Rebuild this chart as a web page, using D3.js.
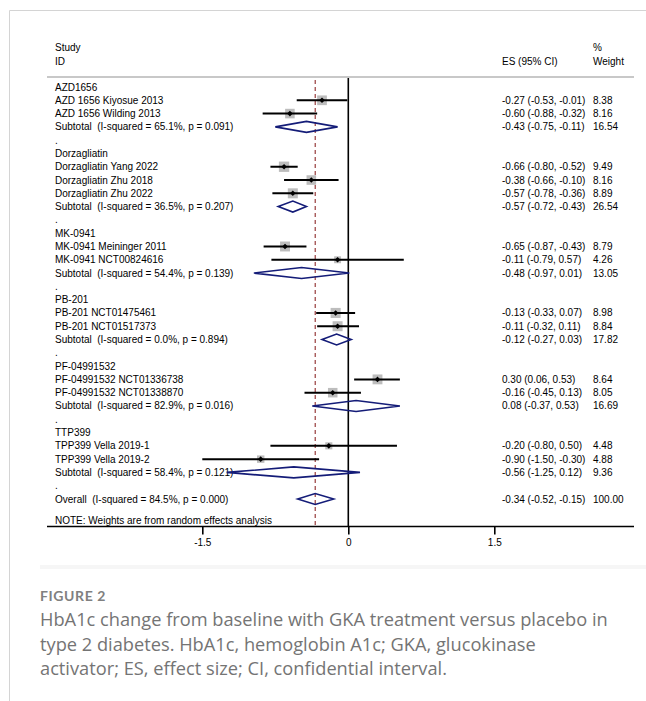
<!DOCTYPE html>
<html>
<head>
<meta charset="utf-8">
<script src="https://cdn.jsdelivr.net/npm/d3@7"></script>
<style>
  html, body { margin: 0; padding: 0; background: #fff; }
  svg { display: block; }
  svg text { white-space: pre; }
</style>
</head>
<body>
<script>
// ---- DATA ----
const rowLabels = [
  "AZD1656",
  "AZD 1656 Kiyosue 2013",
  "AZD 1656 Wilding 2013",
  "Subtotal  (I-squared = 65.1%, p = 0.091)",
  ".",
  "Dorzagliatin",
  "Dorzagliatin Yang 2022",
  "Dorzagliatin Zhu 2018",
  "Dorzagliatin Zhu 2022",
  "Subtotal  (I-squared = 36.5%, p = 0.207)",
  ".",
  "MK-0941",
  "MK-0941 Meininger 2011",
  "MK-0941 NCT00824616",
  "Subtotal  (I-squared = 54.4%, p = 0.139)",
  ".",
  "PB-201",
  "PB-201 NCT01475461",
  "PB-201 NCT01517373",
  "Subtotal  (I-squared = 0.0%, p = 0.894)",
  ".",
  "PF-04991532",
  "PF-04991532 NCT01336738",
  "PF-04991532 NCT01338870",
  "Subtotal  (I-squared = 82.9%, p = 0.016)",
  ".",
  "TTP399",
  "TPP399 Vella 2019-1",
  "TPP399 Vella 2019-2",
  "Subtotal  (I-squared = 58.4%, p = 0.121)",
  ".",
  "Overall  (I-squared = 84.5%, p = 0.000)"
];
// g = group header, s = study, d = subtotal diamond, o = overall diamond, b = blank
const rowTypes = ["g","s","s","d","b","g","s","s","s","d","b","g","s","s","d","b","g","s","s","d","b","g","s","s","d","b","g","s","s","d","b","o"];
const esValues = [null,-0.27,-0.60,-0.43,null,null,-0.66,-0.38,-0.57,-0.57,null,null,-0.65,-0.11,-0.48,null,null,-0.13,-0.11,-0.12,null,null,0.30,-0.16,0.08,null,null,-0.20,-0.90,-0.56,null,-0.34];
const ciLower  = [null,-0.53,-0.88,-0.75,null,null,-0.80,-0.66,-0.78,-0.72,null,null,-0.87,-0.79,-0.97,null,null,-0.33,-0.32,-0.27,null,null,0.06,-0.45,-0.37,null,null,-0.80,-1.50,-1.25,null,-0.52];
const ciUpper  = [null,-0.01,-0.32,-0.11,null,null,-0.52,-0.10,-0.36,-0.43,null,null,-0.43,0.57,0.01,null,null,0.07,0.11,0.03,null,null,0.53,0.13,0.53,null,null,0.50,-0.30,0.12,null,-0.15];
const weights  = [null,8.38,8.16,16.54,null,null,9.49,8.16,8.89,26.54,null,null,8.79,4.26,13.05,null,null,8.98,8.84,17.82,null,null,8.64,8.05,16.69,null,null,4.48,4.88,9.36,null,100.00];
const overallES = -0.34;
const xTicks = [-1.5, 0, 1.5];
const noteText = "NOTE: Weights are from random effects analysis";
const captionTitle = "FIGURE 2";
const captionLines = [
  "HbA1c change from baseline with GKA treatment versus placebo in",
  "type 2 diabetes. HbA1c, hemoglobin A1c; GKA, glucokinase",
  "activator; ES, effect size; CI, confidential interval."
];

// ---- LAYOUT ----
const W = 646, H = 701;
const svg = d3.select("body").append("svg").attr("width", W).attr("height", H);
svg.append("rect").attr("width", W).attr("height", H).attr("fill", "#fff");

// card border (left + top)
svg.append("path").attr("d", `M9.5,${H} L9.5,10.5 L${W},10.5`)
  .attr("fill", "none").attr("stroke", "#d4d4d4").attr("stroke-width", 1);

const font = "'Liberation Sans', Arial, Helvetica, sans-serif";
const fs = 10;
const x = d3.scaleLinear().domain([-1.5, 1.5]).range([202.3, 494.3]);
const y = d3.scaleLinear().domain([0, rowLabels.length - 1]).range([87, 499]);
const axisY = 526.5, topY = 77;
const textX = 55, ciX = 502, wX = 593;

const g = svg.append("g");

// header
const hdr = g.append("g").attr("font-family", font).attr("font-size", fs).attr("fill", "#000");
hdr.append("text").attr("x", textX).attr("y", 47).attr("dy", "0.35em").text("Study");
hdr.append("text").attr("x", textX).attr("y", 61).attr("dy", "0.35em").text("ID");
hdr.append("text").attr("x", ciX).attr("y", 61).attr("dy", "0.35em").text("ES (95% CI)");
hdr.append("text").attr("x", wX).attr("y", 47).attr("dy", "0.35em").text("%");
hdr.append("text").attr("x", wX).attr("y", 61).attr("dy", "0.35em").text("Weight");

// header separator
g.append("line").attr("x1", 47).attr("x2", 634).attr("y1", topY).attr("y2", topY)
  .attr("stroke", "#c8c8c8").attr("stroke-width", 2);

// zero line
g.append("line").attr("x1", x(0)).attr("x2", x(0)).attr("y1", topY + 1).attr("y2", axisY)
  .attr("stroke", "#000").attr("stroke-width", 1.6);

// overall dashed line
g.append("line").attr("x1", x(overallES)).attr("x2", x(overallES)).attr("y1", topY + 3).attr("y2", axisY)
  .attr("stroke", "#8e2b2b").attr("stroke-width", 1.1).attr("stroke-dasharray", "4,3");

const rows = rowLabels.map((label, i) => ({
  i, label, type: rowTypes[i], es: esValues[i], lo: ciLower[i], hi: ciUpper[i], w: weights[i]
}));
const f2 = d3.format(".2f");
const fmt = v => f2(v).replace("\u2212", "-");

// labels
g.append("g").attr("font-family", font).attr("font-size", fs).attr("fill", "#000")
  .selectAll("text").data(rows).join("text")
  .attr("x", textX).attr("y", d => y(d.i)).attr("dy", "0.35em").text(d => d.label);

// CI texts and weights
const withVals = rows.filter(d => d.es !== null);
g.append("g").attr("font-family", font).attr("font-size", fs).attr("fill", "#000")
  .selectAll("text").data(withVals).join("text")
  .attr("x", ciX).attr("y", d => y(d.i)).attr("dy", "0.35em")
  .text(d => `${fmt(d.es)} (${fmt(d.lo)}, ${fmt(d.hi)})`);
g.append("g").attr("font-family", font).attr("font-size", fs).attr("fill", "#000")
  .selectAll("text").data(withVals).join("text")
  .attr("x", wX).attr("y", d => y(d.i)).attr("dy", "0.35em")
  .text(d => fmt(d.w));

// study markers
const studies = rows.filter(d => d.type === "s");
const boxSide = d3.scaleSqrt().domain([0, 10]).range([0, 10.6]);
const sg = g.append("g");
sg.selectAll("rect").data(studies).join("rect")
  .attr("x", d => x(d.es) - boxSide(d.w) / 2)
  .attr("y", d => y(d.i) - boxSide(d.w) / 2)
  .attr("width", d => boxSide(d.w)).attr("height", d => boxSide(d.w))
  .attr("fill", "#bdbdbd");
sg.selectAll("line").data(studies).join("line")
  .attr("x1", d => x(d.lo)).attr("x2", d => x(d.hi))
  .attr("y1", d => y(d.i)).attr("y2", d => y(d.i))
  .attr("stroke", "#000").attr("stroke-width", 2);
sg.selectAll("path").data(studies).join("path")
  .attr("d", d => {
    const cx = x(d.es), cy = y(d.i), r = 2.8;
    return `M${cx},${cy - r}L${cx + r},${cy}L${cx},${cy + r}L${cx - r},${cy}Z`;
  })
  .attr("fill", "#000");

// diamonds
const diam = rows.filter(d => d.type === "d" || d.type === "o");
g.append("g").selectAll("path").data(diam).join("path")
  .attr("d", d => {
    const cy = y(d.i), h = 5.5;
    return `M${x(d.lo)},${cy}L${x(d.es)},${cy - h}L${x(d.hi)},${cy}L${x(d.es)},${cy + h}Z`;
  })
  .attr("fill", "none").attr("stroke", "#141c78").attr("stroke-width", 1.6)
  .attr("stroke-linejoin", "miter");

// note
g.append("text").attr("x", textX).attr("y", 520).attr("dy", "0.35em")
  .attr("font-family", font).attr("font-size", fs).text(noteText);

// x axis
g.append("line").attr("x1", 47).attr("x2", 634).attr("y1", axisY).attr("y2", axisY)
  .attr("stroke", "#000").attr("stroke-width", 1.6);
const axisG = g.append("g").attr("transform", `translate(0,${axisY})`)
  .call(d3.axisBottom(x).tickValues(xTicks).tickSize(8).tickSizeOuter(0)
    .tickFormat(d => d === 0 ? "0" : d3.format(".1f")(d).replace("\u2212", "-")));
axisG.select(".domain").remove();
axisG.selectAll(".tick line").attr("stroke", "#000").attr("stroke-width", 1.6);
axisG.selectAll(".tick text").attr("font-family", font).attr("font-size", fs)
  .attr("fill", "#000").attr("y", 12);

// faint band under figure
svg.append("rect").attr("x", 40).attr("y", 565).attr("width", W - 40).attr("height", 4)
  .attr("fill", "#f6f6f6");

// caption
const capFont = "'Open Sans', Lato, 'Noto Sans', sans-serif";
svg.append("text").attr("x", 40).attr("y", 601)
  .attr("font-family", "Lato, 'Open Sans', sans-serif").attr("font-size", 14).attr("font-weight", 700)
  .attr("letter-spacing", 0.6).attr("fill", "#808080").text(captionTitle);
const capText = svg.append("g").attr("font-family", capFont).attr("fill", "#747474")
  .selectAll("text").data(captionLines).join("text")
  .attr("x", 40).attr("y", (d, i) => 626 + i * 24.5)
  .attr("font-size", 18)
  .text(d => d);
// fit first caption line to the reference width (568 px)
const w0 = capText.node().getComputedTextLength();
const capSize = 18 * 568 / w0;
capText.attr("font-size", capSize);
</script>
</body>
</html>
